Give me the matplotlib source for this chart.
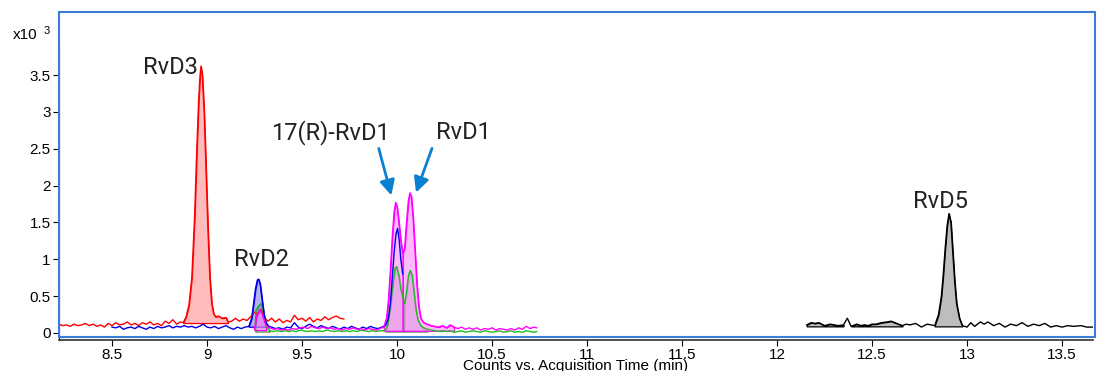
import numpy as np
import matplotlib.pyplot as plt
from matplotlib.patches import Rectangle

# ---- data (counts x10^3 vs. acquisition time, min) ----
red_x = [8.22, 8.24, 8.26, 8.28, 8.30, 8.32, 8.34, 8.36, 8.38, 8.40, 8.42, 8.44, 8.46, 8.48,
         8.50, 8.52, 8.54, 8.56, 8.58, 8.60, 8.62, 8.64, 8.66, 8.68, 8.70, 8.72, 8.74, 8.76,
         8.78, 8.80, 8.82, 8.84, 8.86, 8.875, 8.89, 8.905, 8.92, 8.935, 8.945, 8.955, 8.962,
         8.968, 8.975, 8.985, 8.995, 9.005, 9.015, 9.025, 9.035, 9.045, 9.06, 9.08, 9.10, 9.11,
         9.13, 9.15, 9.17, 9.19, 9.21, 9.23, 9.25, 9.265, 9.28, 9.29, 9.30, 9.32, 9.34, 9.36,
         9.38, 9.40, 9.42, 9.44, 9.46, 9.48, 9.50, 9.52, 9.54, 9.56, 9.58, 9.60, 9.62, 9.64,
         9.66, 9.68, 9.70, 9.72]
red_y = [0.12, 0.10, 0.11, 0.09, 0.12, 0.10, 0.11, 0.13, 0.10, 0.12, 0.09, 0.11, 0.08, 0.13,
         0.10, 0.14, 0.11, 0.12, 0.15, 0.11, 0.13, 0.10, 0.14, 0.12, 0.15, 0.11, 0.13, 0.10,
         0.16, 0.13, 0.18, 0.12, 0.15, 0.14, 0.22, 0.38, 0.75, 1.60, 2.40, 3.10, 3.45,
         3.62, 3.50, 3.00, 2.20, 1.40, 0.75, 0.40, 0.26, 0.22, 0.23, 0.20, 0.21, 0.15,
         0.16, 0.20, 0.16, 0.19, 0.17, 0.22, 0.28, 0.25, 0.32, 0.30, 0.22, 0.16, 0.20, 0.15,
         0.19, 0.14, 0.17, 0.15, 0.24, 0.18, 0.20, 0.16, 0.21, 0.15, 0.19, 0.17, 0.22, 0.18,
         0.21, 0.23, 0.20, 0.19]

blue_x = [8.50, 8.52, 8.54, 8.56, 8.58, 8.60, 8.62, 8.64, 8.66, 8.68, 8.70, 8.72, 8.74, 8.76,
          8.78, 8.80, 8.82, 8.84, 8.86, 8.88, 8.90, 8.92, 8.94, 8.96, 8.98, 9.00, 9.02, 9.04,
          9.06, 9.08, 9.10, 9.12, 9.14, 9.16, 9.18, 9.20, 9.22, 9.235, 9.245, 9.255, 9.265,
          9.272, 9.28, 9.29, 9.30, 9.31, 9.325, 9.34, 9.36, 9.38, 9.40, 9.42, 9.44, 9.46, 9.48,
          9.50, 9.52, 9.54, 9.56, 9.58, 9.60, 9.62, 9.64, 9.66, 9.68, 9.70, 9.72, 9.74, 9.76,
          9.78, 9.80, 9.82, 9.84, 9.86, 9.88, 9.90, 9.92, 9.94, 9.955, 9.965, 9.975, 9.985,
          9.995, 10.003, 10.012, 10.02, 10.03]
blue_y = [0.08, 0.07, 0.09, 0.05, 0.07, 0.08, 0.06, 0.09, 0.07, 0.05, 0.08, 0.06, 0.09, 0.07,
          0.08, 0.10, 0.07, 0.09, 0.08, 0.10, 0.08, 0.09, 0.07, 0.09, 0.12, 0.08, 0.07, 0.09,
          0.06, 0.08, 0.10, 0.07, 0.05, 0.08, 0.06, 0.08, 0.09, 0.20, 0.40, 0.60, 0.72,
          0.73, 0.66, 0.45, 0.25, 0.14, 0.09, 0.08, 0.06, 0.07, 0.05, 0.08, 0.07, 0.14, 0.08,
          0.06, 0.09, 0.12, 0.09, 0.07, 0.10, 0.08, 0.06, 0.09, 0.07, 0.05, 0.08, 0.06, 0.09,
          0.07, 0.05, 0.08, 0.06, 0.09, 0.07, 0.06, 0.08, 0.10, 0.20, 0.40, 0.75, 1.10,
          1.35, 1.42, 1.25, 1.00, 0.80]

mag_x = [9.25, 9.26, 9.27, 9.28, 9.29, 9.30, 9.31, 9.33, 9.35, 9.37, 9.39, 9.41, 9.43, 9.45,
         9.47, 9.49, 9.51, 9.53, 9.55, 9.57, 9.59, 9.61, 9.63, 9.65, 9.67, 9.69, 9.71, 9.73,
         9.75, 9.77, 9.79, 9.81, 9.83, 9.85, 9.87, 9.89, 9.91, 9.93, 9.945, 9.955, 9.965,
         9.975, 9.985, 9.993, 10.0, 10.01, 10.02, 10.03, 10.04, 10.05, 10.06, 10.068, 10.075,
         10.085, 10.095, 10.105, 10.115, 10.125, 10.14, 10.16, 10.18, 10.20, 10.22, 10.24,
         10.26, 10.28, 10.30, 10.32, 10.34, 10.36, 10.38, 10.40, 10.42, 10.44, 10.46, 10.48,
         10.50, 10.52, 10.54, 10.56, 10.58, 10.60, 10.62, 10.64, 10.66, 10.68, 10.70, 10.72,
         10.735]
mag_y = [0.05, 0.22, 0.28, 0.31, 0.26, 0.18, 0.10, 0.07, 0.05, 0.06, 0.04, 0.05, 0.04, 0.06,
         0.05, 0.07, 0.08, 0.06, 0.09, 0.07, 0.06, 0.08, 0.06, 0.07, 0.05, 0.06, 0.04, 0.06,
         0.05, 0.07, 0.05, 0.06, 0.04, 0.06, 0.05, 0.04, 0.06, 0.08, 0.20, 0.45, 0.85,
         1.30, 1.65, 1.77, 1.72, 1.50, 1.25, 1.08, 1.15, 1.50, 1.80, 1.90, 1.85,
         1.55, 1.10, 0.65, 0.35, 0.20, 0.14, 0.12, 0.10, 0.09, 0.08, 0.10,
         0.07, 0.11, 0.08, 0.06, 0.08, 0.05, 0.07, 0.05, 0.07, 0.04, 0.06, 0.05,
         0.07, 0.04, 0.06, 0.05, 0.04, 0.06, 0.04, 0.07, 0.05, 0.09, 0.06, 0.08,
         0.07]

green_x = [9.255, 9.256, 9.265, 9.275, 9.285, 9.295, 9.305, 9.315, 9.33, 9.35, 9.37, 9.39,
           9.41, 9.43, 9.45, 9.47, 9.49, 9.51, 9.53, 9.55, 9.57, 9.59, 9.61, 9.63, 9.65, 9.67,
           9.69, 9.71, 9.73, 9.75, 9.77, 9.79, 9.81, 9.83, 9.85, 9.87, 9.89, 9.91, 9.93, 9.94,
           9.95, 9.965, 9.98, 9.99, 9.998, 10.01, 10.02, 10.037, 10.04, 10.05, 10.06, 10.07,
           10.08, 10.09, 10.10, 10.11, 10.125, 10.14, 10.16, 10.18, 10.20, 10.22, 10.24, 10.26,
           10.28, 10.30, 10.32, 10.34, 10.36, 10.38, 10.40, 10.42, 10.44, 10.46, 10.48, 10.50,
           10.52, 10.54, 10.56, 10.58, 10.60, 10.62, 10.64, 10.66, 10.68, 10.70, 10.72, 10.735]
green_y = [0.02, 0.30, 0.34, 0.38, 0.40, 0.30, 0.18, 0.08, 0.03, 0.02, 0.03, 0.02,
           0.03, 0.02, 0.03, 0.02, 0.04, 0.03, 0.02, 0.03, 0.02, 0.03, 0.02, 0.04, 0.03, 0.02,
           0.03, 0.02, 0.03, 0.02, 0.03, 0.02, 0.04, 0.03, 0.02, 0.03, 0.02, 0.03, 0.03, 0.04,
           0.10, 0.35, 0.70, 0.88, 0.90, 0.78, 0.60, 0.42, 0.40, 0.55, 0.78, 0.85,
           0.78, 0.55, 0.32, 0.18, 0.10, 0.07, 0.05, 0.04, 0.03, 0.02, 0.03, 0.02,
           0.03, 0.01, 0.02, 0.03, 0.01, 0.02, 0.03, 0.02, 0.01, 0.03, 0.02, 0.01,
           0.02, 0.03, 0.01, 0.02, 0.03, 0.01, 0.02, 0.01, 0.03, 0.02, 0.01, 0.02]

black_x = [12.156, 12.18, 12.20, 12.22, 12.25, 12.28, 12.30, 12.32, 12.35, 12.37, 12.39,
           12.42, 12.44, 12.46, 12.48, 12.50, 12.52, 12.55, 12.58, 12.60, 12.63, 12.66, 12.68,
           12.70, 12.73, 12.76, 12.79, 12.83, 12.85, 12.865, 12.875, 12.885, 12.895, 12.905,
           12.915, 12.925, 12.935, 12.945, 12.96, 12.975, 13.00, 13.02, 13.04, 13.07, 13.09,
           13.11, 13.14, 13.17, 13.20, 13.23, 13.26, 13.29, 13.32, 13.35, 13.38, 13.41, 13.44,
           13.47, 13.50, 13.53, 13.56, 13.60, 13.63, 13.66]
black_y = [0.11, 0.14, 0.13, 0.14, 0.10, 0.12, 0.11, 0.10, 0.11, 0.20, 0.09,
           0.12, 0.10, 0.11, 0.10, 0.12, 0.12, 0.14, 0.15, 0.16, 0.13, 0.10, 0.12,
           0.11, 0.13, 0.08, 0.12, 0.10, 0.25, 0.50, 0.80, 1.15, 1.45, 1.62,
           1.50, 1.10, 0.70, 0.40, 0.20, 0.10, 0.08, 0.14, 0.09, 0.15, 0.12,
           0.15, 0.10, 0.13, 0.08, 0.12, 0.10, 0.14, 0.09, 0.12, 0.10, 0.13, 0.08,
           0.10, 0.08, 0.10, 0.09, 0.10, 0.08, 0.08]

# integrated peak windows: (start, end, baseline)
red_peaks = [(8.875, 9.11, 0.135)]
blue_peaks = [(9.22, 9.325, 0.085)]
mag_peaks = [(9.25, 9.31, 0.04), (9.93, 10.03, 0.03), (10.03, 10.30, 0.03)]
green_peaks = [(9.256, 9.33, 0.02), (9.94, 10.037, 0.02), (10.037, 10.16, 0.02)]
black_peaks = [(12.156, 12.35, 0.09), (12.39, 12.66, 0.09), (12.83, 12.975, 0.09)]

yticks = [0, 0.5, 1, 1.5, 2, 2.5, 3, 3.5]
ytick_labels = ['0', '0.5', '1', '1.5', '2', '2.5', '3', '3.5']
xticks = [8.5, 9, 9.5, 10, 10.5, 11, 11.5, 12, 12.5, 13, 13.5]
xtick_labels = ['8.5', '9', '9.5', '10', '10.5', '11', '11.5', '12', '12.5', '13', '13.5']

W, H = 1110, 371
fig = plt.figure(figsize=(W / 100, H / 100), dpi=100)
ax = fig.add_axes([59 / W, 1 - 340 / H, (1093 - 59) / W, (340 - 12) / H])
ax.set_xlim(8.221, 13.663)
ax.set_ylim(-0.095, 4.355)
ax.patch.set_alpha(0)

tick_font = {'family': 'Liberation Sans', 'size': 11}


def draw_trace(x, y, color, peaks, face, edge):
    x = np.array(x)
    y = np.array(y)
    ax.plot(x, y, color=color, linewidth=1.0)
    for start, end, base in peaks:
        m = (x >= start - 1e-9) & (x <= end + 1e-9)
        ax.fill_between(x[m], y[m], base, facecolor=face, edgecolor=edge, linewidth=0.9)


# draw order: later traces' fills tint the earlier lines
draw_trace(red_x, red_y, '#ff0000', red_peaks, '#ffbcbc', '#ff0000')
draw_trace(black_x, black_y, '#000000', black_peaks, '#bdbdbd', '#000000')
draw_trace(green_x, green_y, '#22bb22', green_peaks, (0.45, 0.45, 0.45, 0.30), '#5a8a5a')
draw_trace(blue_x, blue_y, '#0000e6', blue_peaks, (0.35, 0.35, 0.85, 0.45), '#0000e6')
draw_trace(mag_x, mag_y, '#ff00ff', mag_peaks, (1.0, 0.55, 1.0, 0.6), '#ff00ff')

# annotations
lab = dict(family='Roboto', fontweight='normal', fontsize=17, color='#222222',
           ha='center', va='center')
ax.text(8.805, 3.60, 'RvD3', **lab)
ax.text(9.289, 1.00, 'RvD2', **lab)
ax.text(9.647, 2.714, '17(R)-RvD1', **lab)
ax.text(10.347, 2.714, 'RvD1', **lab)
ax.text(12.858, 1.79, 'RvD5', **lab)

arrow = dict(arrowstyle='-|>,head_length=0.9,head_width=0.45', color='#0a80d0', lw=2)
ax.annotate('', xy=(9.974, 1.83), xytext=(9.90, 2.54), arrowprops=arrow)
ax.annotate('', xy=(10.095, 1.87), xytext=(10.189, 2.54), arrowprops=arrow)

# axes styling
for s in ['top', 'right']:
    ax.spines[s].set_visible(False)
ax.spines['left'].set_bounds(-0.095, 3.95)
ax.spines['left'].set_color('black')
ax.spines['bottom'].set_color('#333333')
ax.spines['bottom'].set_linewidth(1.2)
ax.set_xticks(xticks)
ax.set_xticklabels(xtick_labels, fontdict=tick_font)
ax.set_yticks(yticks)
ax.set_yticklabels(ytick_labels, fontdict=tick_font)
ax.tick_params(axis='both', direction='out', length=4, width=0.8, pad=2)

# blue frame
fig.patches.append(Rectangle((59 / W, 1 - 337 / H), (1095 - 59) / W, (337 - 12) / H,
                             transform=fig.transFigure, fill=False,
                             edgecolor='#3d7bd9', linewidth=1.5))

fig.text(13 / W, 1 - 35 / H, 'x10', fontsize=11, family='Liberation Sans', va='center')
fig.text(44 / W, 1 - 31 / H, '3', fontsize=8, family='Liberation Sans', va='center')
fig.text(576 / W, 1 - 366 / H, 'Counts vs. Acquisition Time (min)', fontsize=11,
         family='Liberation Sans', ha='center', va='center')

fig.savefig('out.png', dpi=100)
